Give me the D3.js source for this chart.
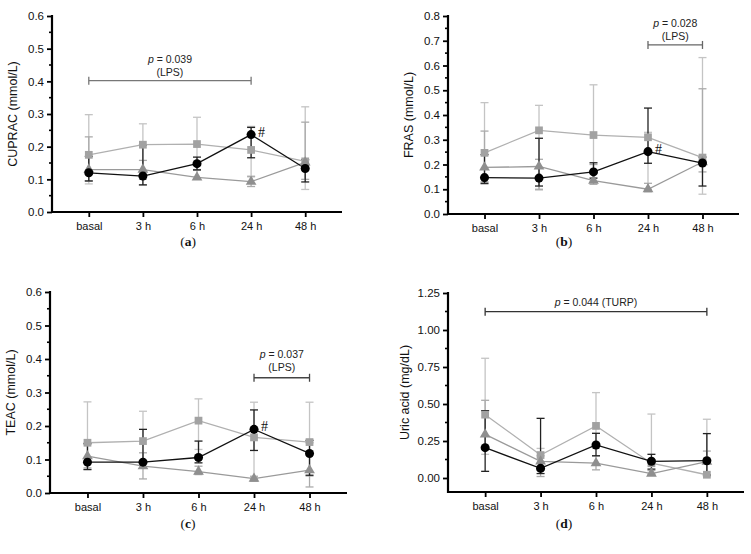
<!DOCTYPE html>
<html><head><meta charset="utf-8">
<script src="https://cdn.jsdelivr.net/npm/d3@7"></script>
<style>body{margin:0;background:#fff}svg{display:block}</style>
</head><body>
<svg id="c" width="751" height="554"></svg>
<script>
const categories = ["basal", "3 h", "6 h", "24 h", "48 h"];

// (a) CUPRAC
const cupracCircle = [0.12, 0.11, 0.148, 0.237, 0.133];
const cupracCircleLo = [0.095, 0.083, 0.129, 0.166, 0.092];
const cupracCircleHi = [0.17, 0.205, 0.168, 0.259, 0.16];
const cupracSquare = [0.175, 0.206, 0.208, 0.19, 0.155];
const cupracSquareLo = [0.086, 0.083, 0.13, 0.11, 0.069];
const cupracSquareHi = [0.298, 0.27, 0.29, 0.262, 0.322];
const cupracTriangle = [0.13, 0.13, 0.106, 0.093, 0.152];
const cupracTriangleLo = [0.095, 0.1, 0.1, 0.078, 0.1];
const cupracTriangleHi = [0.23, 0.158, 0.128, 0.108, 0.275];

// (b) FRAS
const frasCircle = [0.147, 0.145, 0.17, 0.252, 0.206];
const frasCircleLo = [0.124, 0.113, 0.145, 0.205, 0.113];
const frasCircleHi = [0.24, 0.306, 0.207, 0.428, 0.23];
const frasSquare = [0.247, 0.338, 0.319, 0.31, 0.228];
const frasSquareLo = [0.12, 0.097, 0.13, 0.1, 0.08];
const frasSquareHi = [0.45, 0.439, 0.522, 0.33, 0.632];
const frasTriangle = [0.188, 0.192, 0.135, 0.1, 0.21];
const frasTriangleLo = [0.13, 0.1, 0.12, 0.09, 0.17];
const frasTriangleHi = [0.335, 0.221, 0.2, 0.124, 0.506];

// (c) TEAC
const teacCircle = [0.092, 0.092, 0.106, 0.19, 0.118];
const teacCircleLo = [0.07, 0.075, 0.09, 0.127, 0.053];
const teacCircleHi = [0.148, 0.19, 0.155, 0.248, 0.157];
const teacSquare = [0.15, 0.155, 0.216, 0.166, 0.152];
const teacSquareLo = [0.07, 0.09, 0.13, 0.045, 0.05];
const teacSquareHi = [0.272, 0.244, 0.281, 0.271, 0.271];
const teacTriangle = [0.11, 0.08, 0.064, 0.043, 0.068];
const teacTriangleLo = [0.075, 0.042, 0.055, 0.035, 0.018];
const teacTriangleHi = [0.145, 0.12, 0.08, 0.05, 0.15];

// (d) Uric acid
const uricCircle = [0.205, 0.065, 0.223, 0.113, 0.117];
const uricCircleLo = [0.045, 0.03, 0.15, 0.06, 0.02];
const uricCircleHi = [0.455, 0.403, 0.302, 0.16, 0.3];
const uricSquare = [0.428, 0.155, 0.352, 0.1, 0.022];
const uricSquareLo = [0.16, 0.05, 0.2, 0.03, 0.01];
const uricSquareHi = [0.809, 0.2, 0.577, 0.432, 0.397];
const uricTriangle = [0.295, 0.112, 0.1, 0.03, 0.11];
const uricTriangleLo = [0.2, 0.01, 0.055, 0.02, 0.02];
const uricTriangleHi = [0.525, 0.15, 0.15, 0.05, 0.182];

const svg = d3.select("#c");
const FONT = "Liberation Sans, Arial, sans-serif";

function panel(o) {
  const g = svg.append("g");
  const x = d3.scalePoint().domain(categories).range([o.x0, o.x1]).padding(o.pad);
  const y = d3.scaleLinear().domain([0, o.ymax]).range([o.yb, o.yt]);
  const axisY = o.axisY !== undefined ? o.axisY : o.yb;

  // minor ticks
  const minor = d3.range(0, o.ymax + 1e-9, o.minor).filter(v => Math.abs(v / o.major - Math.round(v / o.major)) > 1e-6);
  g.selectAll(".mn").data(minor).join("line")
    .attr("x1", o.x0 - 3).attr("x2", o.x0).attr("y1", d => y(d)).attr("y2", d => y(d))
    .attr("stroke", "#000").attr("stroke-width", 1.6);

  const ya = d3.axisLeft(y).tickValues(d3.range(0, o.ymax + 1e-9, o.major)).tickFormat(d3.format(o.fmt)).tickSize(5).tickPadding(3);
  const yg = g.append("g").attr("transform", `translate(${o.x0},0)`).call(ya);
  yg.select(".domain").remove();
  yg.selectAll(".tick line").attr("stroke-width", 1.8);
  yg.selectAll("text").attr("font-family", FONT).attr("font-size", 11.5).attr("fill", "#111");
  g.append("line").attr("x1", o.x0).attr("x2", o.x0).attr("y1", o.yt - 1).attr("y2", axisY + 1)
    .attr("stroke", "#000").attr("stroke-width", 2.2);

  const xa = d3.axisBottom(x).tickSize(5).tickPadding(5);
  const xg = g.append("g").attr("transform", `translate(0,${axisY})`).call(xa);
  xg.select(".domain").remove();
  xg.selectAll(".tick line").attr("stroke-width", 1.8);
  xg.selectAll("text").attr("font-family", FONT).attr("font-size", 11).attr("fill", "#111");
  g.append("line").attr("x1", o.x0).attr("x2", o.x1).attr("y1", axisY).attr("y2", axisY)
    .attr("stroke", "#000").attr("stroke-width", 2.2);

  // y title
  g.append("text").attr("transform", `translate(${o.tx},${(o.yt + axisY) / 2}) rotate(-90)`)
    .attr("text-anchor", "middle").attr("font-family", FONT).attr("font-size", 12.5).attr("fill", "#111").text(o.title);

  const series = [
    {m: o.sq, lo: o.sqLo, hi: o.sqHi, line: "#b0b0b0", err: "#c4c4c4", fill: "#a2a2a2", shape: "square"},
    {m: o.tr, lo: o.trLo, hi: o.trHi, line: "#9a9a9a", err: "#ababab", fill: "#8f8f8f", shape: "triangle"},
    {m: o.ci, lo: o.ciLo, hi: o.ciHi, line: "#111", err: "#222", fill: "#000", shape: "circle"}
  ];
  const cap = 4;
  series.forEach(s => {
    const eg = g.append("g");
    categories.forEach((c, i) => {
      const cx = x(c);
      eg.append("line").attr("x1", cx).attr("x2", cx).attr("y1", y(s.lo[i])).attr("y2", y(s.hi[i])).attr("stroke", s.err).attr("stroke-width", 1.3);
      [s.lo[i], s.hi[i]].forEach(v => eg.append("line").attr("x1", cx - cap).attr("x2", cx + cap).attr("y1", y(v)).attr("y2", y(v)).attr("stroke", s.err).attr("stroke-width", 1.3));
    });
  });
  series.forEach(s => {
    g.append("path").datum(s.m).attr("fill", "none").attr("stroke", s.line).attr("stroke-width", 1.3)
      .attr("d", d3.line().x((d, i) => x(categories[i])).y(d => y(d)));
  });
  series.forEach(s => {
    const sym = s.shape === "square" ? d3.symbolSquare : s.shape === "triangle" ? d3.symbolTriangle : d3.symbolCircle;
    const size = s.shape === "circle" ? 64 : s.shape === "square" ? 60 : 50;
    g.selectAll(null).data(s.m).join("path")
      .attr("transform", (d, i) => `translate(${x(categories[i])},${y(d)})`)
      .attr("d", d3.symbol(sym, size)).attr("fill", s.fill);
  });

  // # marker
  if (o.hash) {
    g.append("text").attr("x", x("24 h") + 7).attr("y", y(o.ci[3]) + 2)
      .attr("font-family", "Liberation Serif, serif").attr("font-size", 14).attr("fill", "#111").text("#");
  }

  // significance bracket
  const b = o.br;
  const bx1 = x(b.from), bx2 = x(b.to), by = y(b.v);
  g.append("line").attr("x1", bx1).attr("x2", bx2).attr("y1", by).attr("y2", by).attr("stroke", b.color).attr("stroke-width", 1.3);
  [bx1, bx2].forEach(bx => g.append("line").attr("x1", bx).attr("x2", bx).attr("y1", by - 4).attr("y2", by + 4).attr("stroke", b.color).attr("stroke-width", 1.3));
  const t = g.append("text").attr("x", (bx1 + bx2) / 2).attr("y", b.ty).attr("text-anchor", "middle")
    .attr("font-family", FONT).attr("font-size", 10.5).attr("fill", "#222");
  t.append("tspan").attr("font-style", "italic").text("p");
  t.append("tspan").text(" = " + b.p + (b.inline ? " " + b.group : ""));
  if (!b.inline) {
    g.append("text").attr("x", (bx1 + bx2) / 2).attr("y", b.ty + 13).attr("text-anchor", "middle")
      .attr("font-family", FONT).attr("font-size", 10.5).attr("fill", "#222").text(b.group);
  }

  // caption
  const cap2 = svg.append("text").attr("x", o.capx).attr("y", o.capy).attr("text-anchor", "middle")
    .attr("font-family", "Liberation Serif, serif").attr("font-size", 13.5).attr("fill", "#111");
  cap2.append("tspan").text("(");
  cap2.append("tspan").attr("font-weight", "bold").text(o.label);
  cap2.append("tspan").text(")");
}

panel({x0: 52, x1: 342, pad: 0.68, yt: 16, yb: 212, ymax: 0.6, major: 0.1, minor: 0.05, fmt: ".1f", tx: 17,
  title: "CUPRAC (mmol/L)", hash: true,
  ci: cupracCircle, ciLo: cupracCircleLo, ciHi: cupracCircleHi,
  sq: cupracSquare, sqLo: cupracSquareLo, sqHi: cupracSquareHi,
  tr: cupracTriangle, trLo: cupracTriangleLo, trHi: cupracTriangleHi,
  br: {from: "basal", to: "24 h", v: 0.402, color: "#777", ty: 63, p: "0.039", group: "(LPS)"},
  capx: 188, capy: 246, label: "a"});

panel({x0: 448, x1: 739, pad: 0.67, yt: 16, yb: 214, ymax: 0.8, major: 0.1, minor: 0.05, fmt: ".1f", tx: 413,
  title: "FRAS (mmol/L)", hash: true,
  ci: frasCircle, ciLo: frasCircleLo, ciHi: frasCircleHi,
  sq: frasSquare, sqLo: frasSquareLo, sqHi: frasSquareHi,
  tr: frasTriangle, trLo: frasTriangleLo, trHi: frasTriangleHi,
  br: {from: "24 h", to: "48 h", v: 0.683, color: "#666", ty: 27, p: "0.028", group: "(LPS)"},
  capx: 564, capy: 246, label: "b"});

panel({x0: 50, x1: 347, pad: 0.675, yt: 292, yb: 493, ymax: 0.6, major: 0.1, minor: 0.05, fmt: ".1f", tx: 15,
  title: "TEAC (mmol/L)", hash: true,
  ci: teacCircle, ciLo: teacCircleLo, ciHi: teacCircleHi,
  sq: teacSquare, sqLo: teacSquareLo, sqHi: teacSquareHi,
  tr: teacTriangle, trLo: teacTriangleLo, trHi: teacTriangleHi,
  br: {from: "24 h", to: "48 h", v: 0.344, color: "#444", ty: 358, p: "0.037", group: "(LPS)"},
  capx: 188, capy: 528, label: "c"});

panel({x0: 448, x1: 744, pad: 0.67, yt: 293, yb: 478, axisY: 492, ymax: 1.25, major: 0.25, minor: 0.125, fmt: ".2f", tx: 409,
  title: "Uric acid (mg/dL)", hash: false,
  ci: uricCircle, ciLo: uricCircleLo, ciHi: uricCircleHi,
  sq: uricSquare, sqLo: uricSquareLo, sqHi: uricSquareHi,
  tr: uricTriangle, trLo: uricTriangleLo, trHi: uricTriangleHi,
  br: {from: "basal", to: "48 h", v: 1.124, color: "#333", ty: 306, p: "0.044", group: "(TURP)", inline: true},
  capx: 564, capy: 528, label: "d"});
</script>
</body></html>
